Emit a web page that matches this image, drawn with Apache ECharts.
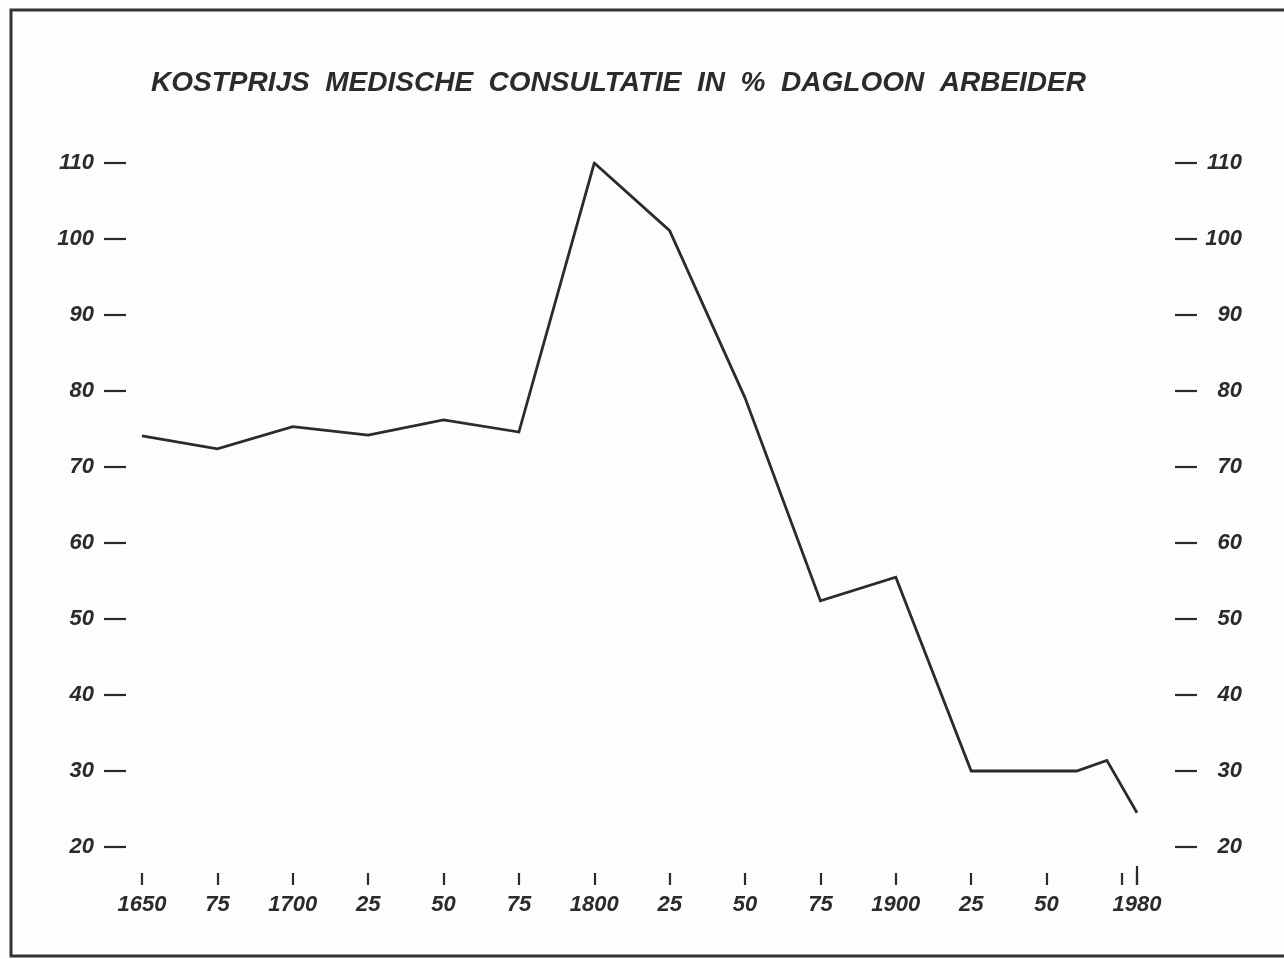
<!DOCTYPE html>
<html>
<head>
<meta charset="utf-8">
<script src="https://cdn.jsdelivr.net/npm/echarts@6/dist/echarts.min.js"></script>
<style>
  html, body { margin: 0; padding: 0; background: #fdfdfc; }
  #chart { width: 1284px; height: 959px; }
</style>
</head>
<body>
<div id="chart"></div>
<script>
// Cost of a medical consultation, in % of a labourer's daily wage
const titleText = 'KOSTPRIJS  MEDISCHE  CONSULTATIE  IN  %  DAGLOON  ARBEIDER';
const years  = [1650, 1675, 1700, 1725, 1750, 1775, 1800, 1825, 1850, 1875, 1900, 1925, 1950, 1960, 1970, 1980];
const values = [74.1, 72.4, 75.3, 74.2, 76.2, 74.6, 110, 101.1, 79.1, 52.4, 55.5, 30, 30, 30, 31.4, 24.5];

// x-axis ticks and labels
const tickYears  = [1650, 1675, 1700, 1725, 1750, 1775, 1800, 1825, 1850, 1875, 1900, 1925, 1950, 1975, 1980];
const labelYears = [1650, 1675, 1700, 1725, 1750, 1775, 1800, 1825, 1850, 1875, 1900, 1925, 1950, 1980];
const fullYears  = [1650, 1700, 1800, 1900, 1980];
const endYear    = [1980];

// y-axis
const yMin = 20, yMax = 110, yStep = 10;

const ink = '#2b2b2b';
const labelFont = {
  color: ink,
  fontFamily: 'Liberation Sans',
  fontStyle: 'italic',
  fontWeight: 'bold',
  fontSize: 22
};

const chart = echarts.init(document.getElementById('chart'), null, { renderer: 'canvas' });

const yearLabel = v => fullYears.indexOf(v) >= 0 ? String(v) : String(v % 100).padStart(2, '0');

chart.setOption({
  backgroundColor: '#fdfdfc',
  animation: false,
  title: {
    text: titleText,
    left: 146,
    top: 64,
    textStyle: {
      color: ink,
      fontFamily: 'Liberation Sans',
      fontStyle: 'italic',
      fontWeight: 'bold',
      fontSize: 28
    }
  },
  graphic: [{
    type: 'rect',
    shape: { x: 11, y: 10, width: 1300, height: 946 },
    style: { fill: 'none', stroke: '#333', lineWidth: 3 },
    silent: true
  }],
  grid: { left: 142, right: 147, top: 163, bottom: 112, containLabel: false },
  xAxis: [{
    type: 'value',
    min: 1650,
    max: 1980,
    position: 'bottom',
    offset: 26,
    axisLine: { show: false },
    splitLine: { show: false },
    axisTick: { show: true, customValues: tickYears, length: 12, lineStyle: { color: ink, width: 2.2 } },
    axisLabel: Object.assign({ customValues: labelYears, margin: 21, formatter: yearLabel }, labelFont)
  }, {
    type: 'value',
    min: 1650,
    max: 1980,
    position: 'bottom',
    offset: 19,
    axisLine: { show: false },
    splitLine: { show: false },
    axisTick: { show: true, customValues: endYear, length: 19, lineStyle: { color: ink, width: 2.2 } },
    axisLabel: { show: false }
  }],
  yAxis: [{
    type: 'value',
    position: 'left',
    min: yMin,
    max: yMax,
    interval: yStep,
    offset: 16,
    axisLine: { show: false },
    splitLine: { show: false },
    axisTick: { show: true, length: 22, lineStyle: { color: ink, width: 2.2 } },
    axisLabel: Object.assign({ margin: 32 }, labelFont)
  }, {
    type: 'value',
    position: 'right',
    min: yMin,
    max: yMax,
    interval: yStep,
    offset: 38,
    axisLine: { show: false },
    splitLine: { show: false },
    axisTick: { show: true, length: 22, lineStyle: { color: ink, width: 2.2 } },
    axisLabel: Object.assign({ margin: 67, align: 'right' }, labelFont)
  }],
  series: [{
    type: 'line',
    xAxisIndex: 0,
    yAxisIndex: 0,
    data: years.map((y, i) => [y, values[i]]),
    showSymbol: false,
    symbol: 'none',
    lineStyle: { color: ink, width: 2.8, join: 'miter' }
  }]
});
</script>
</body>
</html>
